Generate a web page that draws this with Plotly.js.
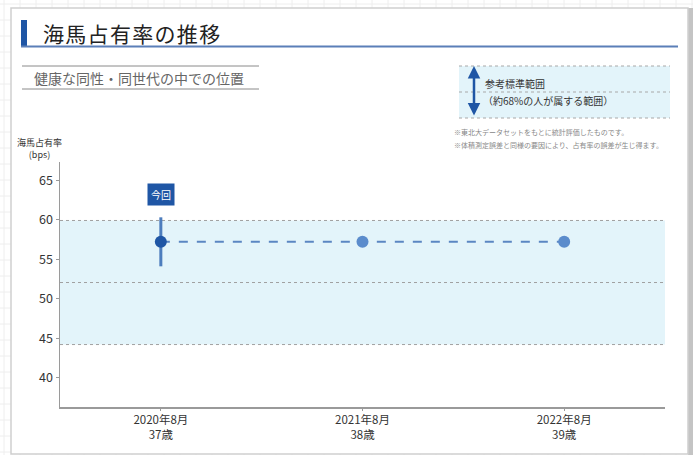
<!DOCTYPE html>
<html>
<head>
<meta charset="utf-8">
<script src="https://cdn.plot.ly/plotly-3.0.1.min.js"></script>
<style>html,body{margin:0;padding:0;background:#fff;}#chart{width:693px;height:455px;}</style>
</head>
<body>
<div id="chart"></div>
<script>
// ---- data ----
const dates = ["2020年8月", "2021年8月", "2022年8月"];
const ages = ["37歳", "38歳", "39歳"];
const values = [57.2, 57.2, 57.2];
const errorCurrent = [3.1, 0, 0];
const refMean = 52.05;
const refSD = 7.85;
const yTicks = [40, 45, 50, 55, 60, 65];
const currentLabel = "今回";

// ---- layout helpers (pixel -> paper) ----
const W = 693, H = 455, L = 60, R = 28, T = 162, B = 48;
const PW = W - L - R, PH = H - T - B;
const fx = px => (px - L) / PW;
const fy = py => (H - B - py) / PH;
const FONT = '"Noto Sans CJK JP", "Noto Sans", sans-serif';

const xIdx = dates.map((d, i) => i);
const tickText = dates.map((d, i) => d + "<br>" + ages[i]);
const spaced = s => Array.from(s).join('\u200A');

const shapes = [];
// background grid outside card
for (let gx = 4; gx < W; gx += 16) {
  shapes.push({type: 'line', xref: 'paper', yref: 'paper', x0: fx(gx), x1: fx(gx), y0: fy(0), y1: fy(H), line: {color: '#eeeeee', width: 1}, layer: 'below'});
}
for (let gy = 4; gy < H; gy += 16) {
  shapes.push({type: 'line', xref: 'paper', yref: 'paper', x0: fx(0), x1: fx(W), y0: fy(gy), y1: fy(gy), line: {color: '#eeeeee', width: 1}, layer: 'below'});
}
// right shadow
shapes.push({type: 'rect', xref: 'paper', yref: 'paper', x0: fx(688), x1: fx(693), y0: fy(8), y1: fy(455), fillcolor: '#c4c4c4', line: {width: 0}, layer: 'below'});
// card
shapes.push({type: 'rect', xref: 'paper', yref: 'paper', x0: fx(11), x1: fx(688), y0: fy(8), y1: fy(454), fillcolor: '#ffffff', line: {color: '#cfcfcf', width: 1.5}, layer: 'below'});
// title bar and underline
shapes.push({type: 'rect', xref: 'paper', yref: 'paper', x0: fx(21), x1: fx(27), y0: fy(20), y1: fy(46), fillcolor: '#1f56a5', line: {width: 0}, layer: 'below'});
shapes.push({type: 'line', xref: 'paper', yref: 'paper', x0: fx(21), x1: fx(678), y0: fy(46.5), y1: fy(46.5), line: {color: '#5b7fb8', width: 2}, layer: 'below'});
// subtitle lines
shapes.push({type: 'line', xref: 'paper', yref: 'paper', x0: fx(22), x1: fx(259), y0: fy(66), y1: fy(66), line: {color: '#8a8a8a', width: 1}, layer: 'below'});
shapes.push({type: 'line', xref: 'paper', yref: 'paper', x0: fx(22), x1: fx(259), y0: fy(89), y1: fy(89), line: {color: '#8a8a8a', width: 1}, layer: 'below'});
// legend box
shapes.push({type: 'rect', xref: 'paper', yref: 'paper', x0: fx(459), x1: fx(670), y0: fy(66), y1: fy(118), fillcolor: '#e3f4fa', line: {width: 0}, layer: 'below'});
[66, 92, 118].forEach(py => shapes.push({type: 'line', xref: 'paper', yref: 'paper', x0: fx(459), x1: fx(670), y0: fy(py), y1: fy(py), line: {color: '#a8a8a8', width: 1, dash: 'dot'}, layer: 'below'}));
// reference band
shapes.push({type: 'rect', xref: 'paper', yref: 'y', x0: 0, x1: 1, y0: refMean - refSD, y1: refMean + refSD, fillcolor: '#e3f4fa', line: {width: 0}, layer: 'below'});
[refMean - refSD, refMean, refMean + refSD].forEach(v => shapes.push({type: 'line', xref: 'paper', yref: 'y', x0: 0, x1: 1, y0: v, y1: v, line: {color: '#a0a0a0', width: 1, dash: 'dot'}, layer: 'below'}));

const annotations = [
  {xref: 'paper', yref: 'paper', x: fx(41), y: fy(33), xanchor: 'left', yanchor: 'middle', text: spaced('海馬占有率の推移'), showarrow: false, font: {family: FONT, size: 21, color: '#222'}},
  {xref: 'paper', yref: 'paper', x: fx(32), y: fy(77.5), xanchor: 'left', yanchor: 'middle', text: '健康な同性・同世代の中での位置', showarrow: false, font: {family: FONT, size: 14, color: '#666'}},
  {xref: 'paper', yref: 'paper', x: fx(483), y: fy(84), xanchor: 'left', yanchor: 'middle', text: '参考標準範囲', showarrow: false, font: {family: FONT, size: 10, color: '#333'}},
  {xref: 'paper', yref: 'paper', x: fx(481), y: fy(100), xanchor: 'left', yanchor: 'middle', text: '（約68%の人が属する範囲）', showarrow: false, font: {family: FONT, size: 10, color: '#333'}},
  {xref: 'paper', yref: 'paper', x: fx(474), y: fy(66), ax: 0, ay: 51, axref: 'pixel', ayref: 'pixel', text: '', showarrow: true, arrowhead: 2, startarrowhead: 2, arrowside: 'end+start', arrowsize: 1, arrowwidth: 2.5, arrowcolor: '#1f56a5'},
  {xref: 'paper', yref: 'paper', x: fx(452), y: fy(132), xanchor: 'left', yanchor: 'middle', text: '※東北大データセットをもとに統計評価したものです。', showarrow: false, font: {family: FONT, size: 7, color: '#888'}},
  {xref: 'paper', yref: 'paper', x: fx(452), y: fy(144.5), xanchor: 'left', yanchor: 'middle', text: '※体積測定誤差と同様の要因により、占有率の誤差が生じ得ます。', showarrow: false, font: {family: FONT, size: 7, color: '#888'}},
  {xref: 'paper', yref: 'paper', x: fx(39), y: fy(148), xanchor: 'center', yanchor: 'middle', text: '海馬占有率<br>(bps)', showarrow: false, font: {family: FONT, size: 9, color: '#333'}},
  {xref: 'x', yref: 'y', x: xIdx[0], y: 63.2, xanchor: 'center', yanchor: 'middle', text: currentLabel, showarrow: false, bgcolor: '#1f56a5', borderpad: 3, font: {family: FONT, size: 10, color: '#fff'}}
];

const traces = [
  {x: xIdx, y: values, type: 'scatter', mode: 'lines', line: {color: '#5b86c2', width: 2, dash: 'dash'}, hoverinfo: 'skip'},
  {x: xIdx, y: values, type: 'scatter', mode: 'markers',
   marker: {size: 12, color: values.map((v, i) => i === 0 ? '#1f56a5' : '#5b8ccc')},
   error_y: {type: 'data', array: errorCurrent, visible: true, color: '#4d7dbd', thickness: 3, width: 0}}
];

const layout = {
  width: W, height: H,
  margin: {l: L, r: R, t: T, b: B},
  paper_bgcolor: '#ffffff', plot_bgcolor: 'rgba(0,0,0,0)',
  showlegend: false,
  font: {family: FONT, color: '#333'},
  xaxis: {range: [-0.5, 2.5], tickvals: xIdx, ticktext: tickText, showgrid: false, zeroline: false,
          showline: true, linecolor: '#9a9a9a', linewidth: 1.5, ticks: 'outside', ticklen: 2, tickcolor: '#9a9a9a',
          tickfont: {family: FONT, size: 11.5, color: '#333'}, fixedrange: true},
  yaxis: {range: [36.3, 67.3], tickvals: yTicks, showgrid: false, zeroline: false,
          showline: true, linecolor: '#9a9a9a', linewidth: 1.5, ticks: 'outside', ticklen: 3, tickcolor: '#9a9a9a',
          tickfont: {family: FONT, size: 12.5, color: '#333'}, fixedrange: true},
  shapes: shapes,
  annotations: annotations
};

Plotly.newPlot('chart', traces, layout, {staticPlot: true, displayModeBar: false});
</script>
</body>
</html>
